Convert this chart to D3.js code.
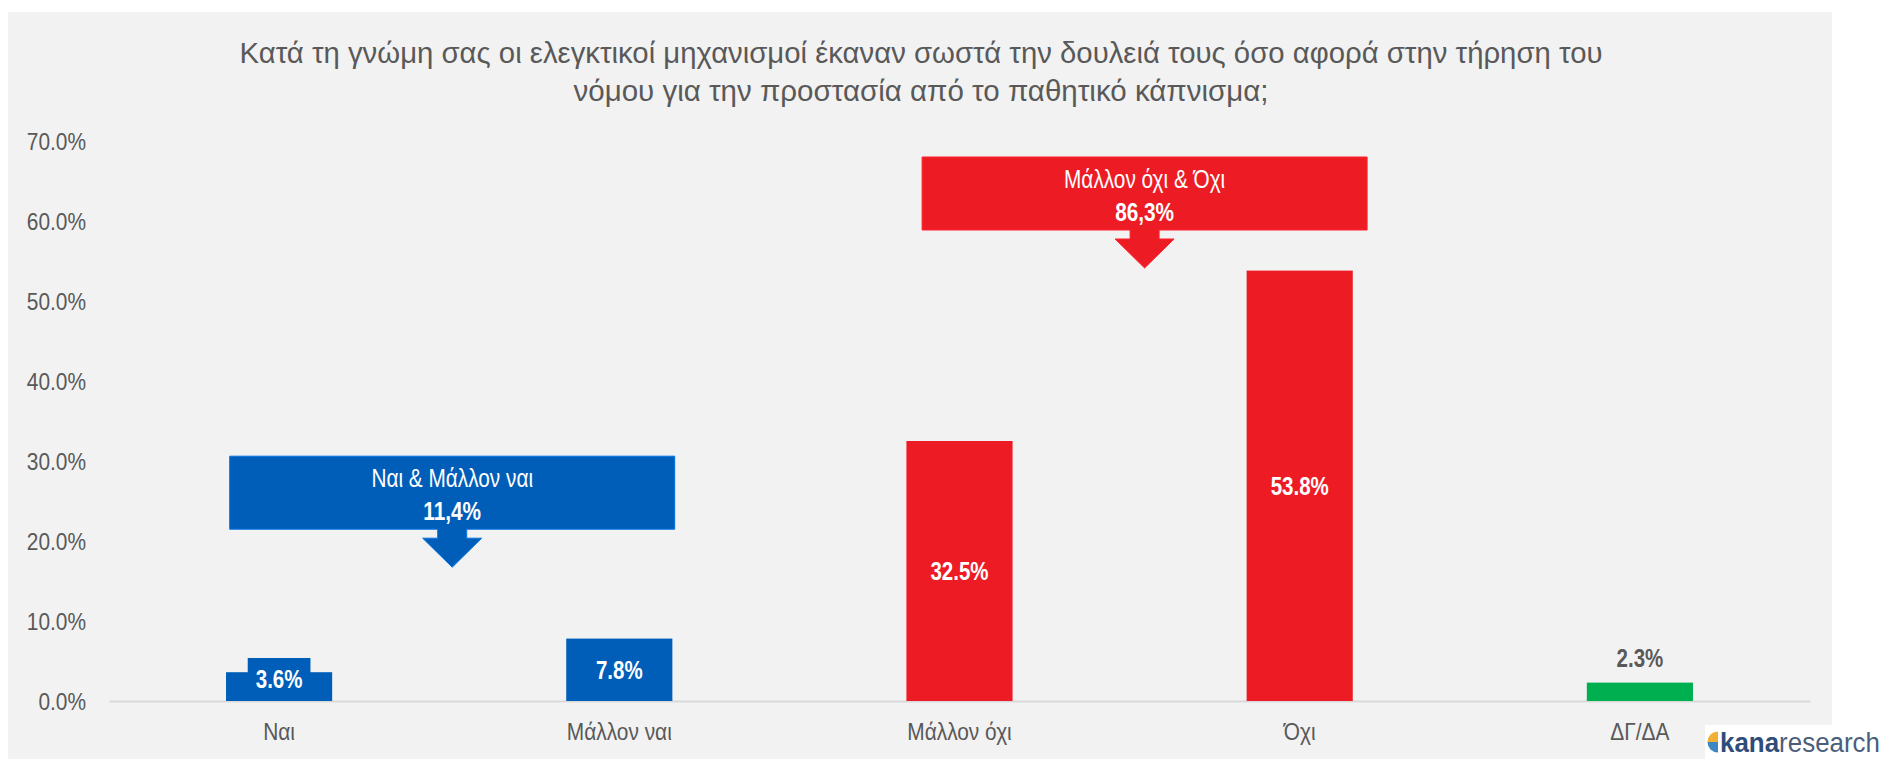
<!DOCTYPE html>
<html>
<head>
<meta charset="utf-8">
<script src="https://cdn.jsdelivr.net/npm/d3@7"></script>
<style>
  html, body { margin: 0; padding: 0; background: #ffffff; }
  svg { display: block; }
  text { font-family: "Liberation Sans", Arial, sans-serif; }
</style>
</head>
<body>
<svg id="chart" width="1885" height="759"></svg>
<script>
// ---------------- DATA ----------------
const titleLines = [
  "Κατά τη γνώμη σας οι ελεγκτικοί μηχανισμοί έκαναν σωστά την δουλειά τους όσο αφορά στην τήρηση του",
  "νόμου για την προστασία από το παθητικό κάπνισμα;"
];
const categories = ["Ναι", "Μάλλον ναι", "Μάλλον όχι", "Όχι", "ΔΓ/ΔΑ"];
const values = [3.6, 7.8, 32.5, 53.8, 2.3];
const valueLabels = ["3.6%", "7.8%", "32.5%", "53.8%", "2.3%"];
const yTicks = [0, 10, 20, 30, 40, 50, 60, 70];
const yTickLabels = ["0.0%", "10.0%", "20.0%", "30.0%", "40.0%", "50.0%", "60.0%", "70.0%"];

const groupNames = ["Ναι & Μάλλον ναι", "Μάλλον όχι & Όχι"];
const groupTotals = ["11,4%", "86,3%"];
const groupMembers = [["Ναι", "Μάλλον ναι"], ["Μάλλον όχι", "Όχι"]];

// ---------------- STYLE / LAYOUT ----------------
const W = 1885, H = 759;
const BLUE = "#005EB8", RED = "#ED1C24", GREEN = "#00B050";
const barColors = [BLUE, BLUE, RED, RED, GREEN];
const groupColors = [BLUE, RED];
const TEXT = "#595959";
const panel = { x: 8, y: 12, w: 1824, h: H - 12 };
const plot = { left: 109, right: 1810, top: 141, bottom: 701 };
const calloutTopValue = [30.6, 68.0];
const calloutNudge = [3, 15];
const calloutW = 445, calloutH = 73;
const shaftW = 29, shaftH = 9, headW = 59, headH = 29;

const svg = d3.select("#chart");

// panel background
svg.append("rect").attr("x", panel.x).attr("y", panel.y)
  .attr("width", panel.w).attr("height", panel.h).attr("fill", "#F2F2F2");

// title
const titleG = svg.append("g");
const titleLen = [1363, 695];
const titleBase = [63, 101];
titleLines.forEach((t, i) => {
  titleG.append("text")
    .attr("x", 921).attr("y", titleBase[i])
    .attr("text-anchor", "middle")
    .attr("font-size", 30)
    .attr("fill", TEXT)
    .attr("textLength", titleLen[i])
    .attr("lengthAdjust", "spacingAndGlyphs")
    .text(t);
});

// scales
const x = d3.scaleBand().domain(categories)
  .range([plot.left, plot.right]).paddingInner(0.688).paddingOuter(0.344);
const y = d3.scaleLinear().domain([0, 70]).range([plot.bottom, plot.top]);

// y axis
const yAxis = svg.append("g").attr("transform", `translate(86,0)`)
  .call(d3.axisLeft(y).tickValues(yTicks)
    .tickFormat((d, i) => yTickLabels[i]).tickSize(0).tickPadding(0));
yAxis.select(".domain").remove();
yAxis.selectAll("text")
  .attr("font-size", 24).attr("fill", TEXT)
  .attr("font-family", "Liberation Sans, Arial, sans-serif")
  .attr("x", 0).attr("dy", "0.35em")
  .attr("transform", "scale(0.87,1)");

// x axis
const xAxis = svg.append("g").attr("transform", `translate(0,${plot.bottom})`)
  .call(d3.axisBottom(x).tickSize(0).tickSizeOuter(0).tickPadding(22));
xAxis.select(".domain").attr("stroke", "#D9D9D9").attr("stroke-width", 2);
xAxis.selectAll("text")
  .attr("font-size", 24).attr("fill", TEXT)
  .attr("font-family", "Liberation Sans, Arial, sans-serif")
  .attr("transform", "scale(0.87,1)");

// bars
const bw = x.bandwidth();
svg.append("g").selectAll("rect").data(categories).join("rect")
  .attr("x", d => x(d))
  .attr("y", (d, i) => y(values[i]))
  .attr("width", bw)
  .attr("height", (d, i) => y(0) - y(values[i]))
  .attr("fill", (d, i) => barColors[i]);

// data labels
const LBL_FS = 25, LBL_SX = 0.82, BOX_HALF = 21;
const lblG = svg.append("g");
categories.forEach((c, i) => {
  const top = y(values[i]);
  const h = y(0) - top;
  const cx = x(c) + bw / 2;
  const inside = h >= 24;
  let cy;
  if (inside) {
    cy = Math.min((top + y(0)) / 2, y(0) - BOX_HALF - 1);
  } else {
    cy = top - 24;
  }
  const g = lblG.append("g").attr("transform", `translate(${cx},${cy})`);
  const t = g.append("text")
    .attr("text-anchor", "middle").attr("dy", "0.35em")
    .attr("font-size", LBL_FS).attr("font-weight", "bold")
    .attr("fill", inside ? "#FFFFFF" : TEXT)
    .attr("transform", `scale(${LBL_SX},1)`)
    .text(valueLabels[i]);
  if (inside) {
    const tw = t.node().getComputedTextLength() * LBL_SX;
    g.insert("rect", "text")
      .attr("x", -tw / 2 - 8).attr("y", -BOX_HALF)
      .attr("width", tw + 16).attr("height", BOX_HALF * 2)
      .attr("fill", barColors[i]);
  }
});

// callouts
groupNames.forEach((name, gi) => {
  const [a, b] = groupMembers[gi];
  const cx = (x(a) + x(b) + bw) / 2 + calloutNudge[gi];
  const top = y(calloutTopValue[gi]);
  const bottom = top + calloutH;
  const col = groupColors[gi];
  const g = svg.append("g");
  const p = d3.path();
  p.moveTo(cx - calloutW / 2, top);
  p.lineTo(cx + calloutW / 2, top);
  p.lineTo(cx + calloutW / 2, bottom);
  p.lineTo(cx + shaftW / 2, bottom);
  p.lineTo(cx + shaftW / 2, bottom + shaftH);
  p.lineTo(cx + headW / 2, bottom + shaftH);
  p.lineTo(cx, bottom + shaftH + headH);
  p.lineTo(cx - headW / 2, bottom + shaftH);
  p.lineTo(cx - shaftW / 2, bottom + shaftH);
  p.lineTo(cx - shaftW / 2, bottom);
  p.lineTo(cx - calloutW / 2, bottom);
  p.closePath();
  g.append("path").attr("d", p.toString()).attr("fill", col)
    .attr("stroke", d3.color(col).brighter(0.6)).attr("stroke-width", 1);
  g.append("text")
    .attr("transform", `translate(${cx},${top + 22}) scale(0.8,1)`)
    .attr("text-anchor", "middle").attr("dy", "0.35em")
    .attr("font-size", 26).attr("fill", "#FFFFFF")
    .text(name);
  g.append("text")
    .attr("transform", `translate(${cx},${top + 55}) scale(0.8,1)`)
    .attr("text-anchor", "middle").attr("dy", "0.35em")
    .attr("font-size", 26).attr("font-weight", "bold").attr("fill", "#FFFFFF")
    .text(groupTotals[gi]);
});

// logo
const logo = svg.append("g");
logo.append("rect").attr("x", 1705).attr("y", 725).attr("width", 180).attr("height", 34).attr("fill", "#FFFFFF");
const icx = 1718, icy = 742, ir = 10.5;
logo.append("path")
  .attr("d", `M${icx},${icy} L${icx},${icy - ir} A${ir},${ir} 0 0 0 ${icx - ir},${icy} Z`)
  .attr("fill", "#F2B134");
logo.append("path")
  .attr("d", `M${icx},${icy} L${icx - ir},${icy} A${ir},${ir} 0 0 0 ${icx},${icy + ir} Z`)
  .attr("fill", "#3D86C6");
const logoText = logo.append("text").attr("x", 1720).attr("y", 752)
  .attr("font-size", 27)
  .attr("textLength", 160).attr("lengthAdjust", "spacingAndGlyphs");
logoText.append("tspan").attr("font-weight", "bold").attr("fill", "#2E4D7B").text("kana");
logoText.append("tspan").attr("fill", "#4B5E7A").text("research");
</script>
</body>
</html>
